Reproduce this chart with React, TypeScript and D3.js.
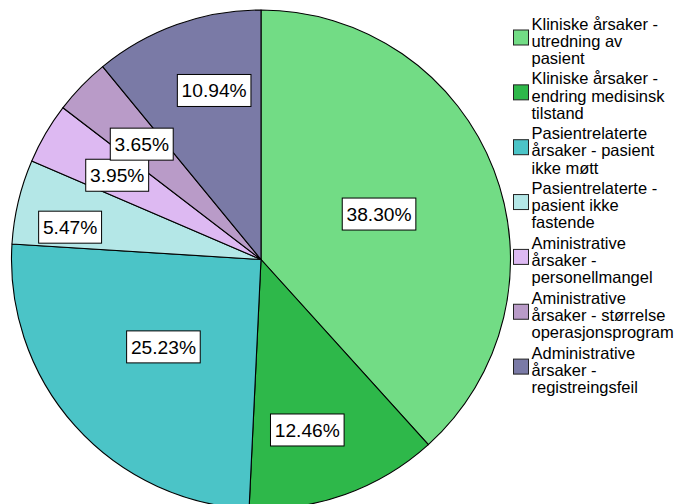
import React from "react";
import * as d3 from "d3";

const categories: string[][] = [
  ["Kliniske årsaker -", "utredning av", "pasient"],
  ["Kliniske årsaker -", "endring medisinsk", "tilstand"],
  ["Pasientrelaterte", "årsaker - pasient", "ikke møtt"],
  ["Pasientrelaterte -", "pasient ikke", "fastende"],
  ["Aministrative", "årsaker -", "personellmangel"],
  ["Aministrative", "årsaker - størrelse", "operasjonsprogram"],
  ["Administrative", "årsaker -", "registreingsfeil"],
];
const values: number[] = [38.30, 12.46, 25.23, 5.47, 3.95, 3.65, 10.94];
const colors: string[] = ["#72dc85", "#2eb84a", "#4bc4c7", "#b4e7e7", "#ddb9f2", "#b99bc8", "#7a7aa6"];

// label placement (layout only): radius fraction and angular nudge in degrees
const labelRadius: number[] = [0.507, 0.708, 0.525, 0.776, 0.668, 0.665, 0.703];
const labelNudge: number[] = [0, 4.5, 0, -3.8, 0, 0, 4.2];

const W = 678, H = 504;
const cx = 261, cy = 259.5, R = 249.5;
const LABEL_FS = 19.2;

function textW(s: string, fs: number) {
  let w = 0;
  for (const ch of s) {
    if (ch === ".") w += 0.278;
    else if (ch === "%") w += 0.889;
    else w += 0.556;
  }
  return w * fs;
}

export default function App() {
  const pie = d3.pie<number>().sort(null).value((d) => d).startAngle(0).endAngle(2 * Math.PI);
  const arcs = pie(values);
  const arc = d3.arc<d3.PieArcDatum<number>>().innerRadius(0).outerRadius(R);
  const fmt = (v: number) => v.toFixed(2) + "%";

  const lineH = 17.2;
  const entryH = 54.85;
  const base0 = 29.5;

  return (
    <svg width={W} height={H} style={{ position: "absolute", left: 0, top: 0, background: "#fff" }}
      fontFamily="'Liberation Sans', Arial, sans-serif">
      <g transform={`translate(${cx},${cy})`}>
        {arcs.map((a, i) => (
          <path key={i} d={arc(a) || ""} fill={colors[i]} stroke="#000" strokeWidth={1.1} strokeLinejoin="round" />
        ))}
      </g>
      {arcs.map((a, i) => {
        const ang = (a.startAngle + a.endAngle) / 2 + (labelNudge[i] * Math.PI) / 180;
        const r = R * labelRadius[i];
        const x = cx + r * Math.sin(ang);
        const y = cy - r * Math.cos(ang);
        const t = fmt(values[i]);
        const tw = textW(t, LABEL_FS);
        const bw = tw + 8.5;
        const bh = 32;
        return (
          <g key={"l" + i}>
            <rect x={x - bw / 2} y={y - bh / 2} width={bw} height={bh} fill="#fff" stroke="#000" strokeWidth={1} />
            <text x={x} y={y + 7} textAnchor="middle" fontSize={LABEL_FS} fill="#000">{t}</text>
          </g>
        );
      })}
      {categories.map((lines, i) => {
        const b = base0 + i * entryH;
        return (
          <g key={"g" + i}>
            <rect x={513.5} y={b + 0.5} width={15} height={15} fill={colors[i]} stroke="#222" strokeWidth={1} />
            {lines.map((ln, j) => (
              <text key={j} x={531.5} y={b + j * lineH} fontSize={16.5} fill="#000">{ln}</text>
            ))}
          </g>
        );
      })}
    </svg>
  );
}
